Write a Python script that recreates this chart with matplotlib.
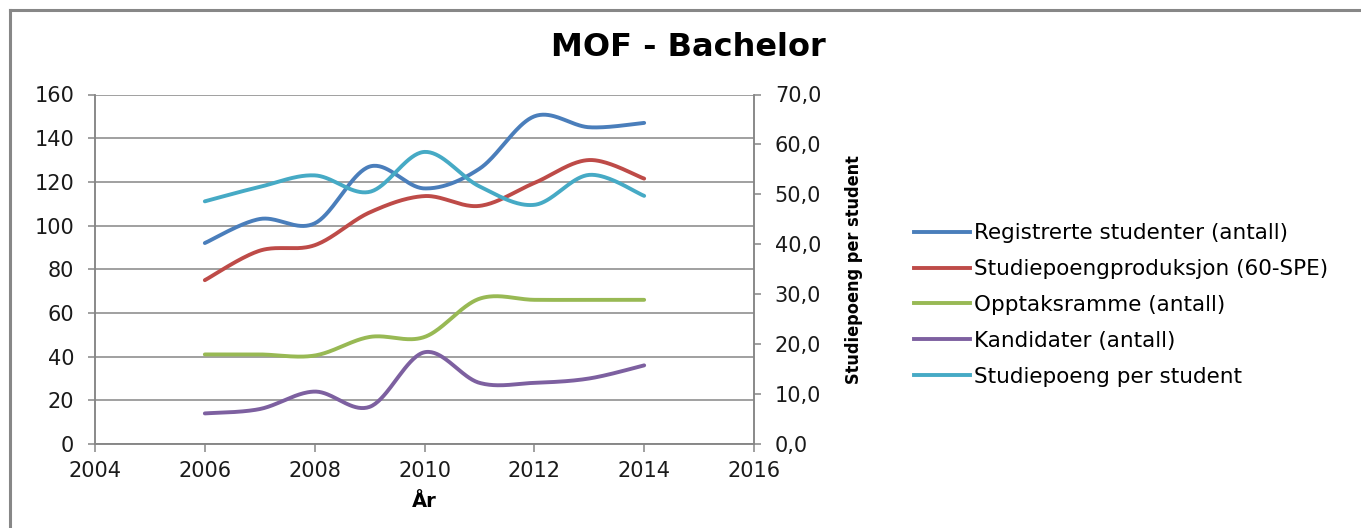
import matplotlib
matplotlib.use("Agg")
import matplotlib.pyplot as plt
from matplotlib.lines import Line2D
import numpy as np

# data
years = [2006, 2007, 2008, 2009, 2010, 2011, 2012, 2013, 2014]
registrerte = [92, 103, 101, 127, 117, 126, 150, 145, 147]
produksjon = [75, 88.5, 91, 106, 113.5, 109, 119.5, 130, 121.5]
opptaksramme = [41, 41, 40.5, 49, 49, 66.5, 66, 66, 66]
kandidater = [14, 16, 24, 17, 42, 28, 28, 30, 36]
sp_per_student = [48.6, 51.5, 53.8, 50.5, 58.5, 51.6, 47.9, 53.9, 49.7]

labels = ["Registrerte studenter (antall)", "Studiepoengproduksjon (60-SPE)",
          "Opptaksramme (antall)", "Kandidater (antall)", "Studiepoeng per student"]
colors = ["#4A7EBB", "#BE4B48", "#98B954", "#7D60A0", "#46AAC5"]

FONT = ["DejaVu Sans"]
GRID = "#868686"


def smooth(xs, ys, n=40):
    # Excel-like smoothed line: cubic bezier through the points
    xs = np.asarray(xs, float)
    ys = np.asarray(ys, float)
    px, py = [], []
    for i in range(len(xs) - 1):
        i0 = max(i - 1, 0)
        i3 = min(i + 2, len(xs) - 1)
        c1x = xs[i] + (xs[i + 1] - xs[i0]) / 6
        c1y = ys[i] + (ys[i + 1] - ys[i0]) / 6
        c2x = xs[i + 1] - (xs[i3] - xs[i]) / 6
        c2y = ys[i + 1] - (ys[i3] - ys[i]) / 6
        t = np.linspace(0, 1, n)
        a, b, c, d = (1 - t) ** 3, 3 * (1 - t) ** 2 * t, 3 * (1 - t) * t ** 2, t ** 3
        px.extend(a * xs[i] + b * c1x + c * c2x + d * xs[i + 1])
        py.extend(a * ys[i] + b * c1y + c * c2y + d * ys[i + 1])
    return px, py


fig = plt.figure(figsize=(13.61, 5.28), dpi=100)
ax = fig.add_axes([95 / 1361, 1 - 444 / 528, (754 - 95) / 1361, (444 - 94.5) / 528])
ax2 = ax.twinx()

for ys, col in zip([registrerte, produksjon, opptaksramme, kandidater], colors[:4]):
    sx, sy = smooth(years, ys)
    ax.plot(sx, sy, color=col, lw=2.8, solid_capstyle="round")
sx, sy = smooth(years, sp_per_student)
ax2.plot(sx, sy, color=colors[4], lw=2.8, solid_capstyle="round")

ax.set_xlim(2004, 2016)
ax.set_ylim(0, 160)
ax2.set_ylim(0, 70)
ax.set_xticks(range(2004, 2017, 2))
ax.set_yticks(range(0, 161, 20))
ax2.set_yticks(range(0, 71, 10))
ax2.set_yticklabels([f"{v},0" for v in range(0, 71, 10)])

ax.grid(axis="y", color=GRID, lw=1.1)
ax.set_axisbelow(True)
for a in (ax, ax2):
    for s in a.spines.values():
        s.set_color(GRID)
        s.set_linewidth(1.1)
    a.spines["top"].set_visible(False)
    a.tick_params(colors=GRID, labelcolor="#1a1a1a", length=5, width=1.1,
                  labelsize=15)
    for lab in a.get_xticklabels() + a.get_yticklabels():
        lab.set_family(FONT)
ax.tick_params(axis="x", length=6, pad=6)
ax.tick_params(axis="y", pad=10)
ax2.tick_params(axis="y", pad=10)

ax.set_xlabel("År", fontsize=14, fontweight="bold", family=FONT, labelpad=8)
ax2.set_ylabel("Studiepoeng per student", fontsize=13, fontweight="bold",
               family="DejaVu Sans", fontstretch="condensed", labelpad=17)

fig.text(688 / 1361, 1 - 48 / 528, "MOF - Bachelor", ha="center", va="center",
         fontsize=23, fontweight="bold", family=FONT)

handles = [Line2D([], [], color=c, lw=2.8) for c in colors]
fig.legend(handles, labels, loc="center left", bbox_to_anchor=(914 / 1361, 1 - 305 / 528),
           frameon=False, prop={"family": FONT, "size": 15.5}, handlelength=2.6,
           handletextpad=0.2, labelspacing=0.74, borderpad=0, borderaxespad=0)

# outer chart frame (top and left edges visible)
fig.add_artist(Line2D([10 / 1361, 1], [1 - 10 / 528] * 2, color="#878787", lw=2.2))
fig.add_artist(Line2D([10 / 1361] * 2, [0, 1 - 10 / 528], color="#878787", lw=2.2))

fig.savefig("out.png", dpi=100)
